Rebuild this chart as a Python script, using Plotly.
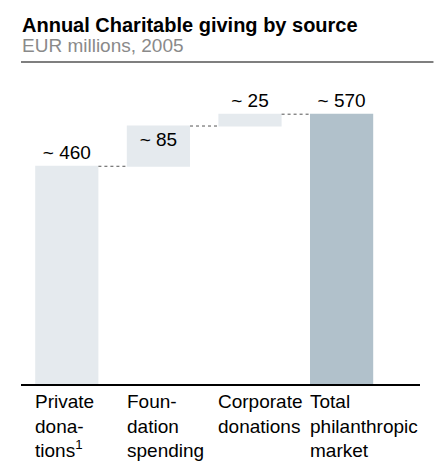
import plotly.graph_objects as go

categories = ["Private donations", "Foundation spending", "Corporate donations", "Total philanthropic market"]
category_labels = ["Private<br>dona-<br>tions<sup>1</sup>", "Foun-<br>dation<br>spending",
                   "Corporate<br>donations", "Total<br>philanthropic<br>market"]
values = [460, 85, 25, 570]
measures = ["relative", "relative", "relative", "total"]
value_labels = ["~ 460", "~ 85", "~ 25", "~ 570"]
text_positions = ["outside", "inside", "outside", "outside"]

title = "Annual Charitable giving by source"
subtitle = "EUR millions, 2005"

FONT = "Liberation Sans, Arial, sans-serif"
PLOT_H = 284.0
BASE_PY = 376.0


def py(p):
    return (BASE_PY - p) / PLOT_H


fig = go.Figure(go.Waterfall(
    x=categories,
    y=values,
    measure=measures,
    text=value_labels,
    textposition=text_positions,
    textfont=dict(family=FONT, size=19, color="#000000"),
    constraintext="none",
    cliponaxis=False,
    increasing=dict(marker=dict(color="#e5eaee")),
    decreasing=dict(marker=dict(color="#e5eaee")),
    totals=dict(marker=dict(color="#b1c1cb")),
    connector=dict(line=dict(color="#555555", width=1, dash="dot"), mode="between"),
    hoverinfo="skip",
))

annotations = []
for i, lab in enumerate(category_labels):
    annotations.append(dict(
        x=i - 0.345, y=0, xref="x", yref="paper", xanchor="left", yanchor="top",
        xshift=-2, yshift=-5, text=lab, showarrow=False, align="left",
        font=dict(family=FONT, size=19, color="#000000"),
    ))
annotations.append(dict(
    x=0, y=py(17), xref="paper", yref="paper", xanchor="left", yanchor="middle",
    xshift=-1, text="<b>" + title + "</b>", showarrow=False,
    font=dict(family=FONT, size=20, color="#000000"),
))
annotations.append(dict(
    x=0, y=py(37.5), xref="paper", yref="paper", xanchor="left", yanchor="middle",
    xshift=-1, text=subtitle, showarrow=False,
    font=dict(family=FONT, size=19, color="#8a8a8a"),
))

fig.update_layout(
    width=443, height=461,
    margin=dict(l=12.5, r=30.5, t=92, b=85),
    paper_bgcolor="white", plot_bgcolor="white",
    waterfallgap=0.31,
    showlegend=False,
    annotations=annotations,
    shapes=[dict(type="line", xref="paper", yref="paper", x0=0.0, x1=(426 - 12.5) / 400,
                 y0=py(54), y1=py(54), line=dict(color="#555555", width=1.5))],
    xaxis=dict(showticklabels=False, showgrid=False, zeroline=False, showline=True,
               linecolor="#000000", linewidth=2, ticks="", fixedrange=True),
    yaxis=dict(range=[0, 600], visible=False, showgrid=False, zeroline=False, fixedrange=True),
)

fig.write_html("out.html")
